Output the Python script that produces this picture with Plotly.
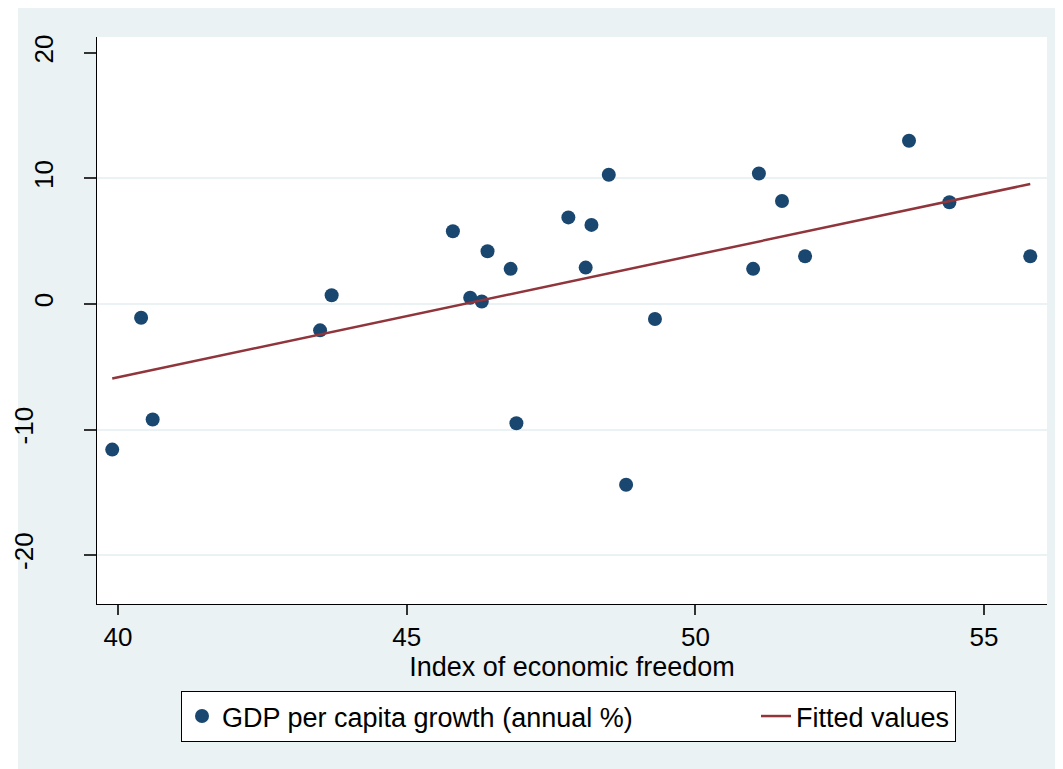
import numpy as np
import plotly.graph_objects as go

# Data
freedom = [39.9, 40.4, 40.6, 43.5, 43.7, 45.8, 46.1, 46.3, 46.4, 46.8, 46.9,
           47.8, 48.1, 48.2, 48.5, 48.8, 49.3, 51.0, 51.1, 51.5, 51.9, 53.7,
           54.4, 55.8]
growth = [-11.6, -1.1, -9.2, -2.1, 0.7, 5.8, 0.5, 0.2, 4.2, 2.8, -9.5,
          6.9, 2.9, 6.3, 10.3, -14.4, -1.2, 2.8, 10.4, 8.2, 3.8, 13.0,
          8.1, 3.8]
y_ticks_pos = [0, 10, 20]
y_labels_pos = ["0", "10", "20"]
y_ticks_neg = [-20, -10]
y_labels_neg = ["-20", "-10"]
y_grid = [-20, -10, 0, 10]
x_ticks = [40, 45, 50, 55]

xs = np.array(freedom)
ys = np.array(growth)
slope, intercept = np.polyfit(xs, ys, 1)
xfit = np.array([xs.min(), xs.max()])
yfit = slope * xfit + intercept

NAVY = "#1a476f"
MAROON = "#90353b"
BG = "#eaf2f3"
FONT = "Liberation Sans, Arial, sans-serif"

W, H = 1055, 761
L, R, T, B = 89, 16, 29, 165
PW = W - L - R
PH = H - T - B

fig = go.Figure()
fig.add_trace(go.Scatter(
    x=freedom, y=growth, mode="markers",
    name="GDP per capita growth (annual %)", legendwidth=529,
    marker=dict(color=NAVY, size=14, line=dict(width=0)),
))
fig.add_trace(go.Scatter(
    x=xfit, y=yfit, mode="lines", name="Fitted values",
    line=dict(color=MAROON, width=2.5),
))
# empty traces binding the extra overlay axes
fig.add_trace(go.Scatter(x=[None], y=[None], yaxis="y2", showlegend=False, hoverinfo="skip"))
fig.add_trace(go.Scatter(x=[None], y=[None], yaxis="y3", showlegend=False, hoverinfo="skip"))

yr = [-23.9, 21.27]
tick_common = dict(ticks="outside", ticklen=12, tickcolor="#333", tickwidth=1.5,
                   tickangle=-90, tickfont=dict(size=26), zeroline=False)
fig.update_layout(
    width=W, height=H,
    margin=dict(l=L, r=R, t=T, b=B, autoexpand=False),
    paper_bgcolor=BG, plot_bgcolor="white",
    font=dict(family=FONT, size=26, color="black"),
    xaxis=dict(
        range=[39.636, 56.09], tickvals=x_ticks, showgrid=False, zeroline=False,
        showline=True, linecolor="black", linewidth=1,
        ticks="outside", ticklen=10, tickcolor="#333", tickwidth=1.5,
        tickfont=dict(size=26),
        title=dict(text="Index of economic freedom", standoff=0, font=dict(size=27)),
    ),
    yaxis=dict(
        range=yr, tickvals=y_ticks_pos, ticktext=y_labels_pos, showgrid=False,
        showline=True, linecolor="black", linewidth=1,
        ticklabelstandoff=21, **tick_common,
    ),
    yaxis2=dict(
        range=yr, overlaying="y", anchor="x", side="left",
        tickvals=y_ticks_neg, ticktext=y_labels_neg, showgrid=False,
        showline=False, ticklabelstandoff=41, **tick_common,
    ),
    yaxis3=dict(
        range=yr, overlaying="y", anchor="x", side="left", tickvals=y_grid,
        showgrid=True, gridcolor=BG, gridwidth=2, showticklabels=False,
        zeroline=False, showline=False, ticks="",
    ),
    legend=dict(
        orientation="h", x=(181 - 8 - L) / PW, y=(T + PH + 8 - 691) / PH,
        xanchor="left", yanchor="top",
        bgcolor="white", bordercolor="black", borderwidth=1,
        font=dict(size=27), itemsizing="trace",
    ),
    shapes=[
        dict(type="rect", xref="paper", yref="paper", x0=-0.2, x1=(10 - L) / PW,
             y0=-0.5, y1=1.2, fillcolor="white", line=dict(width=0), layer="below"),
    ],
)

fig.write_html("out.html")
